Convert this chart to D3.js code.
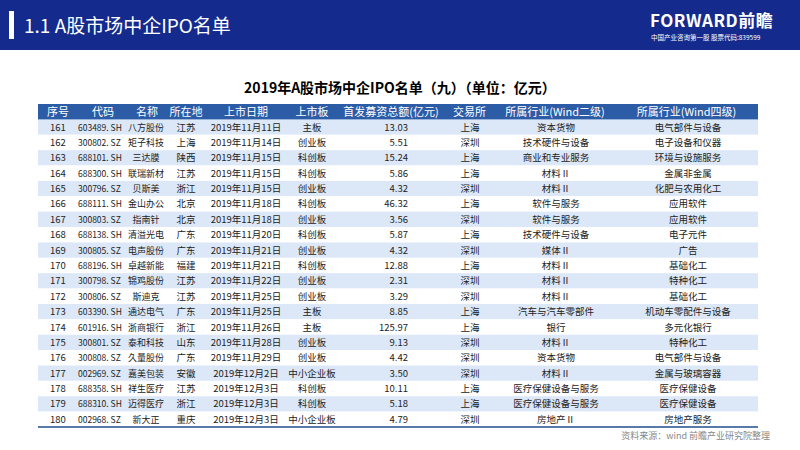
<!DOCTYPE html>
<html><head><meta charset="utf-8">
<script src="https://cdn.jsdelivr.net/npm/d3@7"></script>
<style>body{margin:0;background:#fff}text{font-family:"Noto Sans CJK SC","Noto Sans",sans-serif}</style>
</head><body><div id="chart"></div>
<script>
let seq = d3.range(161, 181);
let codes = ['603489.SH','300802.SZ','688101.SH','688300.SH','300796.SZ','688111.SH','300803.SZ','688138.SH','300805.SZ','688196.SH',
  '300798.SZ','300806.SZ','603390.SH','601916.SH','300801.SZ','300808.SZ','002969.SZ','688358.SH','688310.SH','002968.SZ'];
let names = ['八方股份','矩子科技','三达膜','联瑞新材','贝斯美','金山办公','指南针','清溢光电','电声股份','卓越新能',
  '锦鸡股份','斯迪克','通达电气','浙商银行','泰和科技','久量股份','嘉美包装','祥生医疗','迈得医疗','新大正'];
let regions = ['江苏','上海','陕西','江苏','浙江','北京','北京','广东','广东','福建','江苏','江苏','广东','浙江','山东','广东','安徽','江苏','浙江','重庆'];
let dates = ['2019年11月11日','2019年11月14日','2019年11月15日','2019年11月15日','2019年11月15日','2019年11月18日','2019年11月18日','2019年11月20日','2019年11月21日','2019年11月21日',
  '2019年11月22日','2019年11月25日','2019年11月25日','2019年11月26日','2019年11月28日','2019年11月29日','2019年12月2日','2019年12月3日','2019年12月3日','2019年12月3日'];
let boards = ['主板','创业板','科创板','科创板','创业板','科创板','创业板','科创板','创业板','科创板',
  '创业板','创业板','主板','主板','创业板','创业板','中小企业板','科创板','科创板','中小企业板'];
let amounts = [13.03,5.51,15.24,5.86,4.32,46.32,3.56,5.87,4.32,12.88,2.31,3.29,8.85,125.97,9.13,4.42,3.50,10.11,5.18,4.79];
let exchanges = ['上海','深圳','上海','上海','深圳','上海','深圳','上海','深圳','上海','深圳','深圳','上海','上海','深圳','深圳','深圳','上海','上海','深圳'];
let ind2 = ['资本货物','技术硬件与设备','商业和专业服务','材料Ⅱ','材料Ⅱ','软件与服务','软件与服务','技术硬件与设备','媒体Ⅱ','材料Ⅱ',
  '材料Ⅱ','材料Ⅱ','汽车与汽车零部件','银行','材料Ⅱ','资本货物','材料Ⅱ','医疗保健设备与服务','医疗保健设备与服务','房地产Ⅱ'];
let ind4 = ['电气部件与设备','电子设备和仪器','环境与设施服务','金属非金属','化肥与农用化工','应用软件','应用软件','电子元件','广告','基础化工',
  '特种化工','基础化工','机动车零配件与设备','多元化银行','特种化工','电气部件与设备','金属与玻璃容器','医疗保健设备','医疗保健设备','房地产服务'];
let headers = ['序号','代码','名称','所在地','上市日期','上市板','首发募资总额(亿元)','交易所','所属行业(Wind二级)','所属行业(Wind四级)'];

let width = 800, height = 450;
let svg = d3.select('#chart').append('svg').attr('width', width).attr('height', height);

// top banner
svg.append('rect').attr('width', width).attr('height', 50).attr('fill', '#142a8c');
svg.append('rect').attr('x', 9).attr('y', 11).attr('width', 5).attr('height', 28).attr('fill', '#fff');
svg.append('text').attr('x', 24).attr('y', 33).attr('fill', '#fff').style('font-size', '19px').text('1.1 A股市场中企IPO名单');
svg.append('text').attr('x', 650).attr('y', 27).attr('fill', '#fff').style('font-size', '17px').style('font-weight', 'bold')
  .style('letter-spacing', '0.5px').text('FORWARD前瞻');
svg.append('text').attr('x', 651).attr('y', 40).attr('fill', '#fff').style('font-size', '6.5px').text('中国产业咨询第一股  股票代码:839599');

// title
svg.append('text').attr('x', 400).attr('y', 93).attr('text-anchor', 'middle').style('font-size', '14px')
  .style('font-weight', 'bold').text('2019年A股市场中企IPO名单（九）（单位：亿元）');

// columns: [left edge, right edge]
let colEdges = [38, 78, 128, 166, 206, 286, 338, 444, 495, 615, 758];
let left = colEdges[0], right = colEdges[colEdges.length - 1];
let y = d3.scaleBand().domain(d3.range(-1, seq.length)).range([104, 427]);

svg.append('rect').attr('x', left).attr('y', y(-1)).attr('width', right - left).attr('height', y.bandwidth() + 1).attr('fill', '#2c5ca6');
let head = svg.append('g');
headers.forEach((h, i) => {
  head.append('text').attr('x', (colEdges[i] + colEdges[i + 1]) / 2).attr('y', y(-1) + y.bandwidth() / 2 + 4)
    .attr('text-anchor', 'middle').attr('fill', '#fff').style('font-size', '11px').text(h);
});

let rows = svg.selectAll('g.row').data(seq).enter().append('g').attr('class', 'row')
  .attr('transform', (d, i) => 'translate(0,' + y(i) + ')');
rows.append('rect').attr('x', left).attr('width', right - left).attr('height', y.bandwidth())
  .attr('fill', (d, i) => i % 2 === 0 ? '#dce8f8' : '#fff');

let ty = y.bandwidth() / 2 + 3.5;
let cell = (fn, x, anchor, fs) => rows.append('text').attr('x', x).attr('y', ty).attr('text-anchor', anchor)
  .attr('fill', '#222').style('font-size', (fs || 9.5) + 'px').text(fn);
cell(d => d, 58, 'middle');
cell((d, i) => codes[i].replace('.', '. '), 78, 'start', 8.5);
cell((d, i) => names[i], 146, 'middle', 9);
cell((d, i) => regions[i], 186, 'middle');
cell((d, i) => dates[i], 246, 'middle');
cell((d, i) => boards[i], 312, 'middle');
cell((d, i) => amounts[i].toFixed(2), 408, 'end');
cell((d, i) => exchanges[i], 470, 'middle');
cell((d, i) => ind2[i], 556, 'middle');
cell((d, i) => ind4[i], 688, 'middle');

svg.append('line').attr('x1', left).attr('x2', right).attr('y1', 427).attr('y2', 427)
  .attr('stroke', '#1f4e8c').attr('stroke-width', 1.5);

svg.append('text').attr('x', 770).attr('y', 439).attr('text-anchor', 'end').attr('fill', '#888')
  .style('font-size', '9px').text('资料来源：wind 前瞻产业研究院整理');
</script></body></html>
